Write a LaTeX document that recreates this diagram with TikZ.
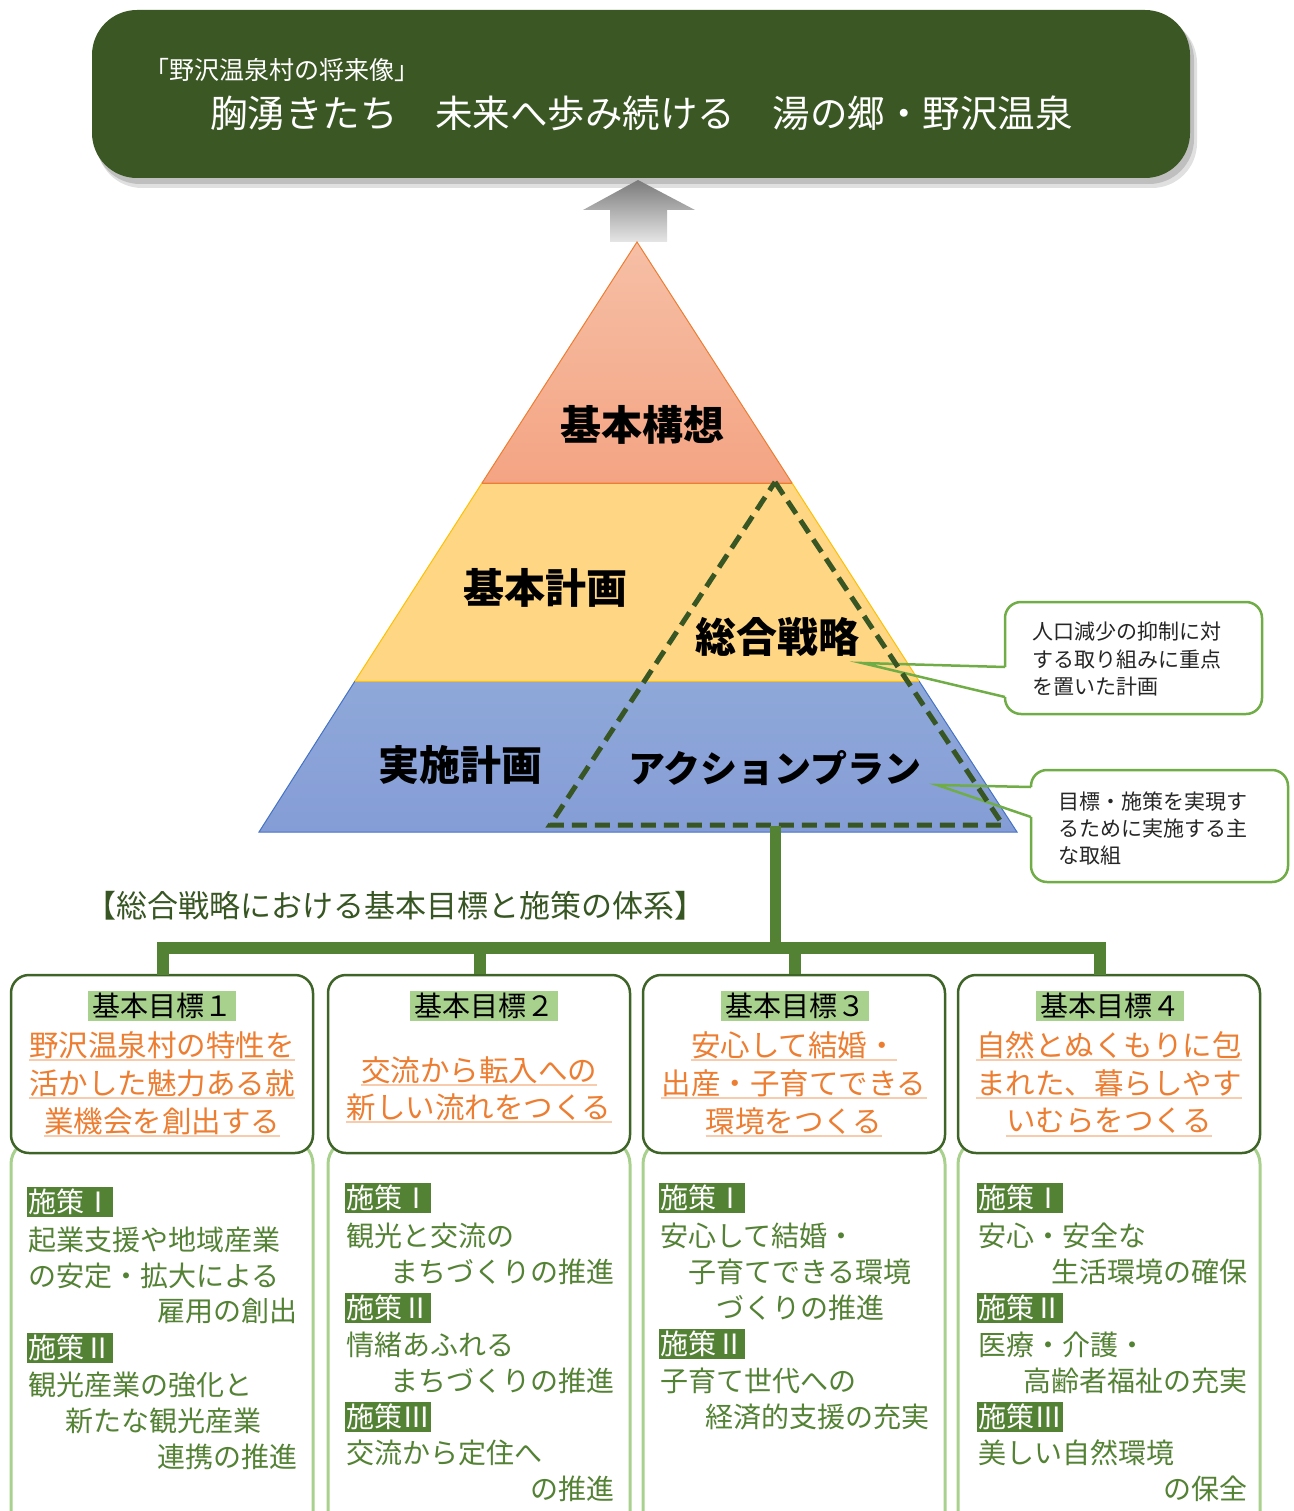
\documentclass[tikz,border=0pt]{standalone}
\usepackage{fontspec}
\setmainfont{Noto Sans CJK JP}
\usetikzlibrary{calc}
\definecolor{bannerg}{HTML}{3A5724}
\definecolor{dkgreen}{HTML}{375623}
\definecolor{midgreen}{HTML}{548235}
\definecolor{ltgreen}{HTML}{A9D18E}
\definecolor{cgreen}{HTML}{70AD47}
\definecolor{boxgreen}{HTML}{3F6428}
\definecolor{orng}{HTML}{ED7D31}
\definecolor{ulorange}{HTML}{F8CBAD}
\definecolor{salmonA}{HTML}{F6BFA6}
\definecolor{salmonB}{HTML}{F4A483}
\definecolor{yel}{HTML}{FED684}
\definecolor{yelB}{HTML}{FFC000}
\definecolor{bluA}{HTML}{8FA8D9}
\definecolor{bluB}{HTML}{859DD6}
\definecolor{bluE}{HTML}{4472C4}
\newcommand\myfs[1]{\fontsize{#1}{#1}\selectfont}
\newcommand\rmn[1]{\makebox[1em][c]{#1}}
\tikzset{
  txt/.style={inner sep=0pt, text=midgreen, font=\myfs{28}},
  lbl/.style={inner xsep=1pt, inner ysep=2pt, fill=midgreen, text=white, font=\myfs{28}},
  goaltxt/.style={inner sep=0pt, text=orng, font=\myfs{29.5}},
  uline/.style={ulorange, line width=2pt},
  hdr/.style={inner xsep=4pt, inner ysep=2pt, fill=ltgreen, text=black, font=\myfs{28}},
  pyr/.style={inner sep=0pt, text=black, font=\bfseries\myfs{41}},
  goalbox/.style={draw=boxgreen, line width=2.5pt, fill=white, rounded corners=18pt, minimum width=302pt, minimum height=178pt},
  subbox/.style={draw=ltgreen, line width=3pt, fill=white, rounded corners=24pt},
  conn/.style={midgreen, line width=12pt},
  calltxt/.style={inner sep=0pt, text=black!85, font=\myfs{21}},
  callbox/.style={draw=cgreen, line width=2.5pt, rounded corners=16pt},
  callptr/.style={draw=cgreen, line width=2.5pt, line join=miter},
}
\begin{document}
\begin{tikzpicture}[x=1pt,y=-1pt]
\useasboundingbox (0,0) rectangle (1293,1511);
% banner
\fill[black, opacity=0.12, rounded corners=45pt] (97,18) rectangle (1197,188);
\fill[black, opacity=0.15, rounded corners=45pt] (95,15) rectangle (1194,184);
\fill[bannerg, rounded corners=45pt] (92,10) rectangle (1190,178);
\node[inner sep=0pt, anchor=west, text=white, font=\myfs{25}] (vision) at (144,70) {「野沢温泉村の将来像」};
\node[inner sep=0pt, anchor=west, text=white, font=\myfs{37.5}] (slogan) at (210,113) {胸湧きたち　未来へ歩み続ける　湯の郷・野沢温泉};
% up arrow
\shade[top color=black!52, bottom color=black!10] (583,210) -- (638,180) -- (695,210) -- (667,210) -- (667,242) -- (610,242) -- (610,210) -- cycle;
% callout boxes (fill)
\fill[white, rounded corners=16pt] (1005,602) rectangle (1262,714);
\draw[callbox] (1005,667) -- (1005,602) -- (1262,602) -- (1262,714) -- (1005,714) -- (1005,697);
\fill[white, rounded corners=16pt] (1031,770) rectangle (1288,882);
\draw[callbox] (1031,787) -- (1031,770) -- (1288,770) -- (1288,882) -- (1031,882) -- (1031,817);
% pyramid
\shade[top color=salmonA, bottom color=salmonB, draw=orng, line width=1pt] (637,242) -- (792,483) -- (482,483) -- cycle;
\fill[yel] (482,483) -- (792,483) -- (919,681) -- (355,681) -- cycle;
\draw[yelB, line width=1pt] (792,483) -- (919,681);
\draw[yelB, line width=1pt] (482,483) -- (355,681);
\draw[orng, line width=1pt] (482,483) -- (792,483);
\shade[top color=bluA, bottom color=bluB] (355,681) -- (919,681) -- (1017,832) -- (259,832) -- cycle;
\draw[bluE, line width=1pt] (355,681) -- (259,832) -- (1017,832) -- (919,681);
\draw[yelB, line width=1pt] (355,681) -- (919,681);
% pointer lines
\draw[callptr] (1005,667) -- (862,663) -- (1005,697);
\draw[callptr] (1031,787) -- (937,785) -- (1031,817);
% dashed triangle
\draw[dkgreen, line width=5pt, dash pattern=on 15pt off 8pt, line join=miter] (775,482) -- (1003,825) -- (550,825) -- cycle;
% pyramid labels
\node[pyr] (kihonkoso) at (642,425) {基本構想};
\node[pyr] (kihonkeikaku) at (545,588) {基本計画};
\node[pyr] (jisshi) at (460,765) {実施計画};
\node[pyr] (sogo) at (777,637) {総合戦略};
\node[pyr, font=\bfseries\myfs{37}] (action) at (775,768) {アクションプラン};
% callout texts
\node[calltxt, anchor=west] (c1a) at (1032,632) {人口減少の抑制に対};
\node[calltxt, anchor=west] (c1b) at (1032,660) {する取り組みに重点};
\node[calltxt, anchor=west] (c1c) at (1032,687) {を置いた計画};
\node[calltxt, anchor=west] (c2a) at (1058,802) {目標・施策を実現す};
\node[calltxt, anchor=west] (c2b) at (1058,829) {るために実施する主};
\node[calltxt, anchor=west] (c2c) at (1058,856) {な取組};
% heading
\node[inner sep=0pt, anchor=west, text=dkgreen, font=\myfs{31}] (heading) at (85,906) {【総合戦略における基本目標と施策の体系】};
% lower boxes
\draw[subbox] (11,1140) rectangle (313,1545);
\draw[subbox] (328,1140) rectangle (630,1545);
\draw[subbox] (643,1140) rectangle (945,1545);
\draw[subbox] (958,1140) rectangle (1260,1545);
% goal boxes
\node[goalbox] (G1) at (162,1064) {};
\node[goalbox] (G2) at (479,1064) {};
\node[goalbox] (G3) at (794,1064) {};
\node[goalbox] (G4) at (1109,1064) {};
% connectors
\coordinate (trunk) at (775,826);
\coordinate (hub) at (775,948);
\coordinate (d1) at (163,975);
\coordinate (d4) at (1100,975);
\draw[conn, line width=11pt] (trunk) -- (hub);
\draw[conn] (d1) |- (hub);
\draw[conn] (d4) |- (hub);
\draw[conn] ([xshift=1pt]G2.north) -- ([xshift=1pt]G2.north |- hub);
\draw[conn] ([xshift=1pt]G3.north) -- ([xshift=1pt]G3.north |- hub);
% headers
\node[hdr] (h1) at (162,1006) {基本目標１};
\node[hdr] (h2) at (484,1006) {基本目標２\hspace{8pt}};
\node[hdr] (h3) at (795,1006) {基本目標３};
\node[hdr] (h4) at (1110,1006) {基本目標４};
% goal texts
\foreach \nm/\x/\y/\t in {
  g1a/162/1045/野沢温泉村の特性を, g1b/162/1083/活かした魅力ある就, g1c/162/1121/業機会を創出する,
  g2a/479/1070/交流から転入への, g2b/479/1107/新しい流れをつくる,
  g3a/794/1045/安心して結婚・, g3b/794/1083/出産・子育てできる, g3c/794/1121/環境をつくる,
  g4a/1109/1045/自然とぬくもりに包, g4b/1109/1083/まれた、暮らしやす, g4c/1109/1121/いむらをつくる}{
  \node[goaltxt] (\nm) at (\x,\y) {\t};
  \draw[uline] ([yshift=-4pt]\nm.base west) -- ([yshift=-4pt]\nm.base east);
}
% column 1
\node[lbl, anchor=west] (s1a) at (27,1202) {施策\rmn{Ⅰ}};
\node[txt, anchor=west] (t1a) at (28,1240) {起業支援や地域産業};
\node[txt, anchor=west] (t1b) at (28,1276) {の安定・拡大による};
\node[txt, anchor=east] (t1c) at (298,1311) {雇用の創出};
\node[lbl, anchor=west] (s1b) at (27,1348) {施策\rmn{Ⅱ}};
\node[txt, anchor=west] (t1d) at (28,1385) {観光産業の強化と};
\node[txt, anchor=west] (t1e) at (65,1421) {新たな観光産業};
\node[txt, anchor=east] (t1f) at (298,1457) {連携の推進};
% column 2
\node[lbl, anchor=west] (s2a) at (345,1198) {施策\rmn{Ⅰ}};
\node[txt, anchor=west] (t2a) at (346,1236) {観光と交流の};
\node[txt, anchor=east] (t2b) at (615,1272) {まちづくりの推進};
\node[lbl, anchor=west] (s2b) at (345,1308) {施策\rmn{Ⅱ}};
\node[txt, anchor=west] (t2c) at (346,1345) {情緒あふれる};
\node[txt, anchor=east] (t2d) at (615,1381) {まちづくりの推進};
\node[lbl, anchor=west] (s2c) at (345,1417) {施策\rmn{Ⅲ}};
\node[txt, anchor=west] (t2e) at (346,1453) {交流から定住へ};
\node[txt, anchor=east] (t2f) at (615,1489) {の推進};
% column 3
\node[lbl, anchor=west] (s3a) at (659,1198) {施策\rmn{Ⅰ}};
\node[txt, anchor=west] (t3a) at (660,1236) {安心して結婚・};
\node[txt, anchor=west] (t3b) at (688,1272) {子育てできる環境};
\node[txt, anchor=west] (t3c) at (716,1308) {づくりの推進};
\node[lbl, anchor=west] (s3b) at (659,1344) {施策\rmn{Ⅱ}};
\node[txt, anchor=west] (t3d) at (660,1381) {子育て世代への};
\node[txt, anchor=west] (t3e) at (705,1417) {経済的支援の充実};
% column 4
\node[lbl, anchor=west] (s4a) at (977,1198) {施策\rmn{Ⅰ}};
\node[txt, anchor=west] (t4a) at (978,1236) {安心・安全な};
\node[txt, anchor=east] (t4b) at (1248,1272) {生活環境の確保};
\node[lbl, anchor=west] (s4b) at (977,1308) {施策\rmn{Ⅱ}};
\node[txt, anchor=west] (t4c) at (978,1345) {医療・介護・};
\node[txt, anchor=east] (t4d) at (1248,1381) {高齢者福祉の充実};
\node[lbl, anchor=west] (s4c) at (977,1417) {施策\rmn{Ⅲ}};
\node[txt, anchor=west] (t4e) at (978,1453) {美しい自然環境};
\node[txt, anchor=east] (t4f) at (1248,1489) {の保全};
\end{tikzpicture}
\end{document}
